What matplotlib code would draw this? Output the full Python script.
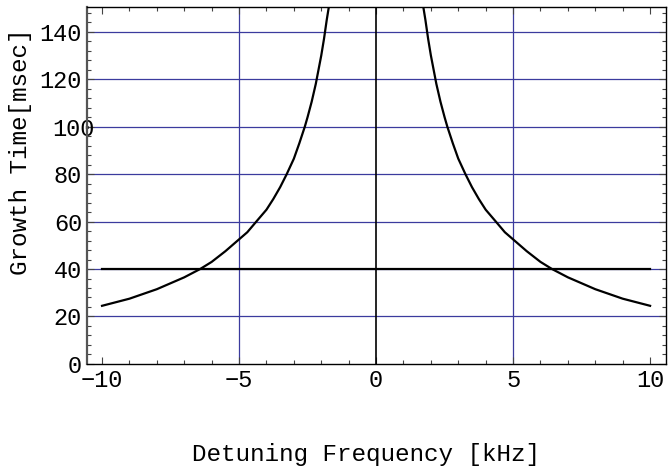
import matplotlib
matplotlib.use("Agg")
import matplotlib.pyplot as plt
import matplotlib.transforms as mtransforms
from matplotlib.ticker import MultipleLocator

# growth time vs detuning, read on the positive side (curve is symmetric)
detuning = [1.73, 1.8, 1.9, 2.0, 2.1, 2.2, 2.35, 2.5, 2.6, 2.8, 3.0, 3.26,
            3.5, 3.75, 4.0, 4.37, 4.7, 5.0, 5.5, 6.0, 6.42, 7.0, 7.5, 8.0,
            8.5, 9.0, 9.5, 10.0]
growth = [150, 145, 137, 130, 124, 118, 110.5, 104, 100, 93, 86.5, 80,
          74.5, 69.5, 65, 60, 55.5, 52.5, 47.5, 43, 40, 36.5, 34, 31.5,
          29.5, 27.5, 26, 24.5]
threshold = 40
grid_y = [20, 40, 60, 80, 100, 120, 140]
grid_x = [-5, 5]

plt.rcParams['font.family'] = ['Liberation Mono', 'DejaVu Sans Mono']

fig = plt.figure(figsize=(6.69, 4.69), dpi=100)
ax = fig.add_axes([0.130, 0.224, 0.8655, 0.761])

blue = '#3b3b9e'
for g in grid_y:
    ax.axhline(g, color=blue, lw=0.9, zorder=1)
for g in grid_x:
    ax.axvline(g, color=blue, lw=0.9, zorder=1)
ax.axvline(0, color='black', lw=1.2, zorder=2)

neg_x = [-d for d in detuning]
ax.plot(neg_x, growth, color='black', lw=1.6, zorder=3)
ax.plot(detuning, growth, color='black', lw=1.6, zorder=3)
ax.plot([-10, 10], [threshold, threshold], color='black', lw=1.6, zorder=3)

ax.set_xlim(-10.55, 10.58)
ax.set_ylim(0, 150.4)
ax.xaxis.set_minor_locator(MultipleLocator(1))
ax.yaxis.set_minor_locator(MultipleLocator(4))
ax.tick_params(which='both', direction='in', top=True, right=True,
               labeltop=False, labelright=False, width=0.8, color='#444444')
ax.tick_params(which='major', length=5, labelsize=17, pad=3.5)
ax.tick_params(which='minor', length=3)
ax.set_xticks([-10, -5, 0, 5, 10])
ax.set_xticklabels(['\u221210', '\u22125', '0', '5', '10'])
ax.set_yticks([0, 20, 40, 60, 80, 100, 120, 140])
ax.set_yticklabels(['0', '20', '40', '60', '80', '100', '120', '140'])

# the 100 label sits a little further right, over the frame
shift = mtransforms.ScaledTranslation(13 / 100, 0, fig.dpi_scale_trans)
for lab in ax.get_yticklabels():
    if lab.get_text() == '100':
        lab.set_transform(lab.get_transform() + shift)

ax.spines['left'].set_linewidth(1.6)
ax.spines['left'].set_color('#555555')
for s in ['top', 'right', 'bottom']:
    ax.spines[s].set_linewidth(1.0)
    ax.spines[s].set_color('black')

ax.set_xlabel('Detuning Frequency [kHz]', fontsize=17.5)
ax.set_ylabel('Growth Time[msec]', fontsize=17.5)
ax.xaxis.set_label_coords(0.482, -0.221)
ax.yaxis.set_label_coords(-0.095, 0.594)

fig.savefig('out.png', dpi=100)
